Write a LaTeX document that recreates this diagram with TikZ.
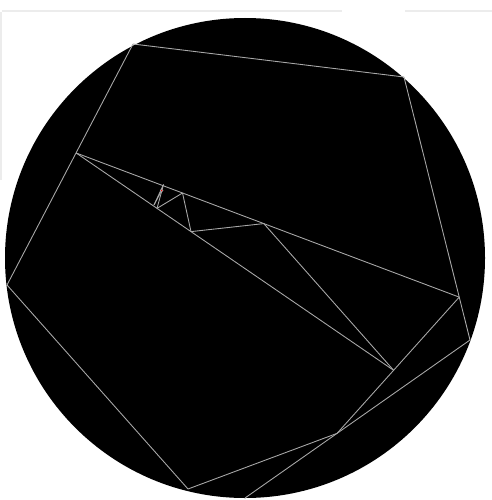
\documentclass[tikz,border=0pt]{standalone}
\usetikzlibrary{calc}
\definecolor{wiregray}{RGB}{168,168,168}
\definecolor{edgegray}{RGB}{236,236,236}
\tikzset{
  wire/.style={draw=wiregray, line width=0.5pt},
  edge/.style={draw=edgegray, line width=0.6pt}
}
\begin{document}
\begin{tikzpicture}[x=0.02cm, y=-0.02cm]
\useasboundingbox (0,0) rectangle (492,500);
\draw [edge] (2,11) -- (342,11);
\draw [edge] (405,11) -- (492,11);
\draw [edge] (1,12) -- (1,180);

\coordinate (ctr) at (245,258);
\fill [black] (ctr) circle [radius=240];

\coordinate (p1) at (133,44);
\coordinate (p2) at (404,77);
\coordinate (q) at (7,285);
\coordinate (w) at (470,340);
\coordinate (x) at (245,498);
\coordinate (y) at (188,489);
\coordinate (v) at ($(x)!0.409!(w)$);
\coordinate (s) at ($(p2)!0.837!(w)$);
\coordinate (r) at ($(p1)!0.452!(q)$);
\coordinate (t) at ($(s)!0.537!(v)$);
\coordinate (u) at ($(s)!0.510!(r)$);
\coordinate (z) at ($(r)!0.362!(t)$);
\coordinate (aa) at ($(u)!0.433!(r)$);
\coordinate (bb) at ($(r)!0.255!(t)$);
\coordinate (cc) at (163.5,184.5);
\coordinate (dd) at (154,205);
\coordinate (ee) at (161.7,190.5);

\draw [wire] (x) -- (w);
\draw [wire] (w) -- (p2);
\draw [wire] (p2) -- (p1);
\draw [wire] (p1) -- (q);
\draw [wire] (q) -- (y);
\draw [wire] (y) -- (v);
\draw [wire] (v) -- (s);
\draw [wire] (s) -- (r);
\draw [wire] (r) -- (t);
\draw [wire] (t) -- (u);
\draw [wire] (u) -- (z);
\draw [wire] (z) -- (aa);
\draw [wire] (aa) -- (bb);
\draw [wire] (bb) -- (cc);
\draw [wire] (cc) -- (dd);
\draw [wire] (dd) -- (ee);
\draw [wiregray, fill=red, line width=0.3pt] (ee) circle [radius=1.4];
\end{tikzpicture}
\end{document}
